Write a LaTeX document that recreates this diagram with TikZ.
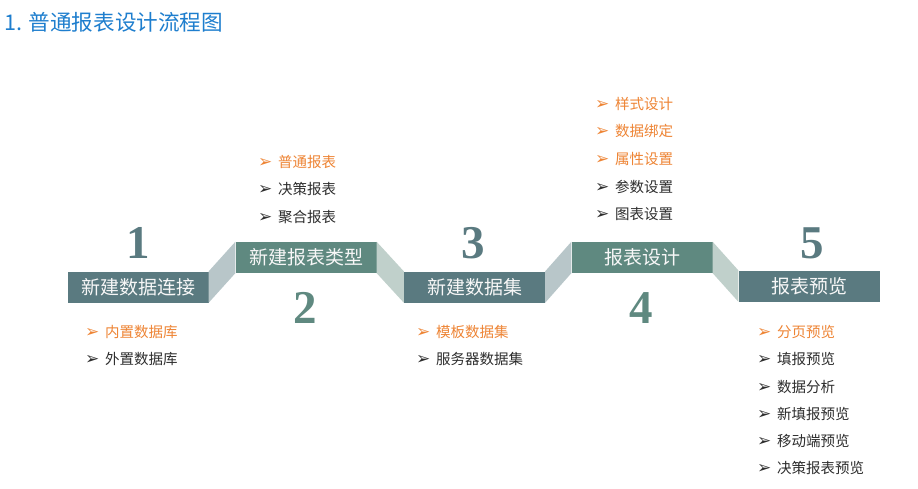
\documentclass[tikz,border=0pt]{standalone}
\usepackage{fontspec}
\usepackage{xcolor}
\setmainfont{Liberation Serif}
\newfontfamily\cjk{Noto Sans CJK SC}
\newfontfamily\symfont{DejaVu Sans}

\definecolor{slate}{RGB}{90,122,128}
\definecolor{sage}{RGB}{95,137,128}
\definecolor{foldgray}{RGB}{184,198,201}
\definecolor{foldsage}{RGB}{192,208,203}
\definecolor{hotorange}{RGB}{238,132,52}
\definecolor{plaintext}{RGB}{45,45,45}
\definecolor{titleblue}{RGB}{30,126,206}

\newcommand{\bul}{\makebox[20pt][l]{\raisebox{0.3pt}{\symfont\fontsize{17}{17}\selectfont ➢}}}

\tikzset{
  stage/.style={fill=#1, text=white!94!gray, minimum width=141pt, minimum height=31pt,
    inner sep=0pt, font=\cjk\fontsize{19}{19}\selectfont},
  num/.style={text=#1, font=\bfseries\fontsize{47}{47}\selectfont},
  hot/.style={anchor=west, inner sep=0pt, text=hotorange, font=\cjk\fontsize{14.5}{14.5}\selectfont},
  plain/.style={anchor=west, inner sep=0pt, text=plaintext, font=\cjk\fontsize{14.5}{14.5}\selectfont},
}

\begin{document}
\begin{tikzpicture}[x=1pt,y=-1pt]
  \useasboundingbox[fill=white] (0,0) rectangle (918,488);

  % title
  \node[anchor=west, inner sep=0pt, text=titleblue, font=\cjk\fontsize{21.6}{21.6}\selectfont]
    (title) at (4,22) {1. 普通报表设计流程图};

  % stages
  \node[stage=slate] (s1) at (138,287) {新建数据连接};
  \node[stage=sage]  (s2) at (306,257.5) {新建报表类型};
  \node[stage=slate] (s3) at (474.5,287) {新建数据集};
  \node[stage=sage]  (s4) at (642,257.5) {报表设计};
  \node[stage=slate] (s5) at (809,286) {报表预览};

  % folds between stages
  \fill[foldgray] (s1.north east) -- (s2.north west) -- (s2.south west) -- (s1.south east) -- cycle;
  \fill[foldsage] (s2.north east) -- (s3.north west) -- (s3.south west) -- (s2.south east) -- cycle;
  \fill[foldgray] (s3.north east) -- (s4.north west) -- (s4.south west) -- (s3.south east) -- cycle;
  \fill[foldsage] (s4.north east) -- (s5.north west) -- (s5.south west) -- (s4.south east) -- cycle;

  % step numbers
  \node[num=slate] (n1) at (138,243) {1};
  \node[num=sage]  (n2) at (305,308) {2};
  \node[num=slate] (n3) at (473,243) {3};
  \node[num=sage]  (n4) at (641,308) {4};
  \node[num=slate] (n5) at (812,243) {5};

  % items of stage 1
  \node[hot]   (a1) at (85,332) {\bul 内置数据库};
  \node[plain] (a2) at (85,359) {\bul 外置数据库};

  % items of stage 2
  \node[hot]   (b1) at (258,162) {\bul 普通报表};
  \node[plain] (b2) at (258,189) {\bul 决策报表};
  \node[plain] (b3) at (258,217) {\bul 聚合报表};

  % items of stage 3
  \node[hot]   (c1) at (416,332) {\bul 模板数据集};
  \node[plain] (c2) at (416,359) {\bul 服务器数据集};

  % items of stage 4
  \node[hot]   (d1) at (595,104) {\bul 样式设计};
  \node[hot]   (d2) at (595,131) {\bul 数据绑定};
  \node[hot]   (d3) at (595,159) {\bul 属性设置};
  \node[plain] (d4) at (595,187) {\bul 参数设置};
  \node[plain] (d5) at (595,214) {\bul 图表设置};

  % items of stage 5
  \node[hot]   (e1) at (757,332) {\bul 分页预览};
  \node[plain] (e2) at (757,359) {\bul 填报预览};
  \node[plain] (e3) at (757,387) {\bul 数据分析};
  \node[plain] (e4) at (757,414) {\bul 新填报预览};
  \node[plain] (e5) at (757,441) {\bul 移动端预览};
  \node[plain] (e6) at (757,468) {\bul 决策报表预览};
\end{tikzpicture}
\end{document}
